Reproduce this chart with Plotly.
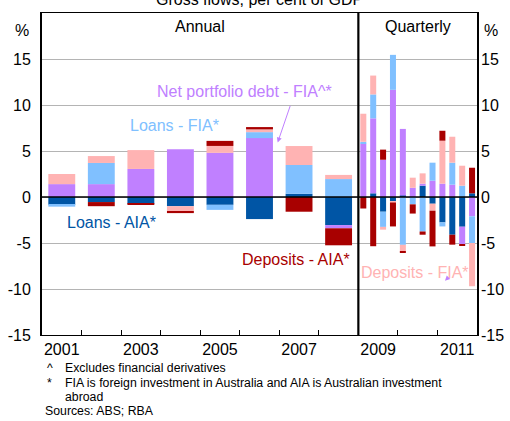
import plotly.graph_objects as go

# Periods: calendar years, then quarters
years = ["2001", "2002", "2003", "2004", "2005", "2006", "2007", "2008"]
quarters = ["2009Q1", "2009Q2", "2009Q3", "2009Q4",
            "2010Q1", "2010Q2", "2010Q3", "2010Q4",
            "2011Q1", "2011Q2", "2011Q3", "2011Q4"]

# Gross flows, per cent of GDP (annual values followed by quarterly values)
loans_aia = [-0.85, -0.55, -0.75, -1.0, -0.85, -2.4, 0.35, -3.05,
             0.0, 0.4, -1.6, -0.5, 0.15, 0.0, 1.23, -0.73, -2.76, -4.1, -3.23, 0.4]
portfolio_debt_fia = [1.4, 1.4, 3.05, 5.2, 4.8, 6.4, 0.0, -0.35,
                      5.8, 8.15, 4.05, 11.65, 7.25, 1.0, 0.22, 1.77, 1.45, 1.34, -1.9, -2.1]
loans_fia = [-0.2, 2.3, 0.0, 0.0, -0.55, 0.65, 3.13, 1.95,
             0.2, 2.6, -1.65, 3.8, -5.2, -0.8, -3.75, 1.96, -0.44, 2.39, 1.23, -2.9]
deposits_fia = [1.1, 0.75, 2.05, -0.55, 0.75, 0.3, 2.06, 0.45,
                3.05, 2.05, -0.3, -0.1, -0.75, 1.1, 1.12, -0.76, 4.67, 2.82, 2.17, -4.7]
deposits_aia = [0.0, -0.45, -0.12, -0.2, 0.55, 0.25, -1.6, -1.85,
                -1.25, -5.35, 1.1, -2.6, -0.08, -1.0, -0.35, -3.88, 1.08, -1.08, -0.16, 2.78]

x_tick_labels = ["2001", "2003", "2005", "2007", "2009", "2011"]
y_ticks = [-15, -10, -5, 0, 5, 10, 15]

PURPLE = "#C080FF"
LIGHT_BLUE = "#80C0FF"
PINK = "#FFB3B3"
DARK_BLUE = "#0055A5"
DARK_RED = "#A80000"
FONT = "Arial, Liberation Sans, sans-serif"

# Each year spans one unit on the x axis; quarters take a quarter of a unit
n_years = len(years)
x_pos = [i + 0.5 for i in range(n_years)] + \
        [n_years + (j + 0.5) * 0.25 for j in range(len(quarters))]
widths = [0.68] * n_years + [0.152] * len(quarters)
n_quarter_years = len(quarters) // 4
x_max = n_years + n_quarter_years

series = [
    ("Loans - AIA", loans_aia, DARK_BLUE),
    ("Net portfolio debt - FIA", portfolio_debt_fia, PURPLE),
    ("Loans - FIA", loans_fia, LIGHT_BLUE),
    ("Deposits - FIA", deposits_fia, PINK),
    ("Deposits - AIA", deposits_aia, DARK_RED),
]

fig = go.Figure()
for name, vals, col in series:
    fig.add_trace(go.Bar(
        x=x_pos, y=vals, width=widths, name=name,
        marker=dict(color=col, line=dict(width=0)),
        showlegend=False,
    ))

# empty trace so the right-hand axis is drawn
fig.add_trace(go.Scatter(x=[None], y=[None], yaxis="y2", mode="markers",
                         showlegend=False, hoverinfo="skip"))

label_centres = [i + 0.5 for i in range(0, n_years, 2)] + \
                [n_years + k + 0.5 for k in range(0, n_quarter_years, 2)]
boundaries = list(range(1, x_max))

fig.update_layout(
    width=510, height=421,
    margin=dict(l=42, r=33, t=13, b=86, autoexpand=False),
    paper_bgcolor="white", plot_bgcolor="white",
    barmode="relative",
    font=dict(family=FONT, size=16, color="black"),
    xaxis=dict(
        range=[0, x_max], showgrid=False, zeroline=False, automargin=False,
        showline=True, mirror=True, linecolor="black", linewidth=1.3,
        tickmode="array", tickvals=label_centres, ticktext=x_tick_labels,
        ticks="", tickfont=dict(size=16),
        minor=dict(tickmode="array", tickvals=boundaries, ticks="inside",
                   ticklen=5, tickwidth=1, tickcolor="black", showgrid=False),
    ),
    yaxis=dict(
        range=[-15, 20], showgrid=True, gridcolor="#B4B4B4", gridwidth=1,
        zeroline=False, showline=True, mirror=True, linecolor="black", linewidth=2,
        automargin=False,
        tickmode="array", tickvals=y_ticks, ticktext=[str(v) for v in y_ticks],
        ticks="", ticklabelstandoff=6, tickfont=dict(size=16),
    ),
    yaxis2=dict(
        range=[-15, 20], overlaying="y", side="right", anchor="x",
        showgrid=False, zeroline=False, showline=False, automargin=False,
        tickmode="array", tickvals=y_ticks, ticktext=[str(v) for v in y_ticks],
        ticks="", ticklabelstandoff=3, tickfont=dict(size=16),
    ),
    shapes=[
        # zero line over the bars
        dict(type="line", xref="paper", yref="y", x0=0, x1=1, y0=0, y1=0,
             line=dict(color="black", width=1.3), layer="above"),
        # divider between annual and quarterly panels
        dict(type="line", xref="x", yref="paper", x0=n_years, x1=n_years, y0=0, y1=1,
             line=dict(color="black", width=2.2), layer="above"),
    ],
)

annotations = [
    dict(text="Gross flows, per cent of GDP", xref="paper", yref="paper",
         x=0.501, y=1.043, xanchor="center", yanchor="middle", font=dict(size=16)),
    dict(text="Annual", xref="x", yref="y", x=n_years / 2, y=18.5, font=dict(size=16)),
    dict(text="Quarterly", xref="x", yref="y", x=n_years + n_quarter_years / 2, y=18.5,
         font=dict(size=16)),
    dict(text="%", xref="paper", yref="paper", x=-0.025, y=0.978, xanchor="right",
         font=dict(size=16)),
    dict(text="%", xref="paper", yref="paper", x=1.011, y=0.978, xanchor="left",
         font=dict(size=16)),
    dict(text="Net portfolio debt - FIA^*", xref="x", yref="y", x=5.11, y=11.45,
         font=dict(size=16, color=PURPLE)),
    dict(text="Loans - FIA*", xref="x", yref="y", x=3.34, y=7.74,
         font=dict(size=16, color=LIGHT_BLUE)),
    dict(text="Loans - AIA*", xref="x", yref="y", x=1.76, y=-2.76,
         font=dict(size=16, color=DARK_BLUE)),
    dict(text="Deposits - AIA*", xref="x", yref="y", x=6.43, y=-6.74,
         font=dict(size=16, color=DARK_RED)),
    dict(text="Deposits - FIA*", xref="x", yref="y", x=9.42, y=-8.26,
         font=dict(size=16, color=PINK)),
    # pointer to the portfolio debt bars
    dict(text="", xref="x", yref="y", x=5.96, y=5.93, ax=13, ay=-38,
         showarrow=True, arrowhead=2, arrowsize=1, arrowwidth=1, arrowcolor=PURPLE),
    dict(text="", xref="x", yref="y", x=10.19, y=-9.1, ax=3, ay=-3,
         showarrow=True, arrowhead=2, arrowsize=1, arrowwidth=1, arrowcolor=PURPLE),
]

notes = [
    ("^", 45, 368.0), ("Excludes financial derivatives", 63, 368.0),
    ("*", 45, 383.0), ("FIA is foreign investment in Australia and AIA is Australian investment", 63, 383.0),
    ("abroad", 63, 397.0),
    ("Sources: ABS; RBA", 42.5, 411.0),
]
for txt, px, py in notes:
    annotations.append(dict(
        text=txt, xref="paper", yref="paper",
        x=(px - 42) / 435, y=(335 - py) / 322,
        xanchor="left", yanchor="middle", showarrow=False,
        font=dict(size=12.3),
    ))

for a in annotations:
    a.setdefault("showarrow", False)
fig.update_layout(annotations=annotations)

fig.write_html("out.html")
